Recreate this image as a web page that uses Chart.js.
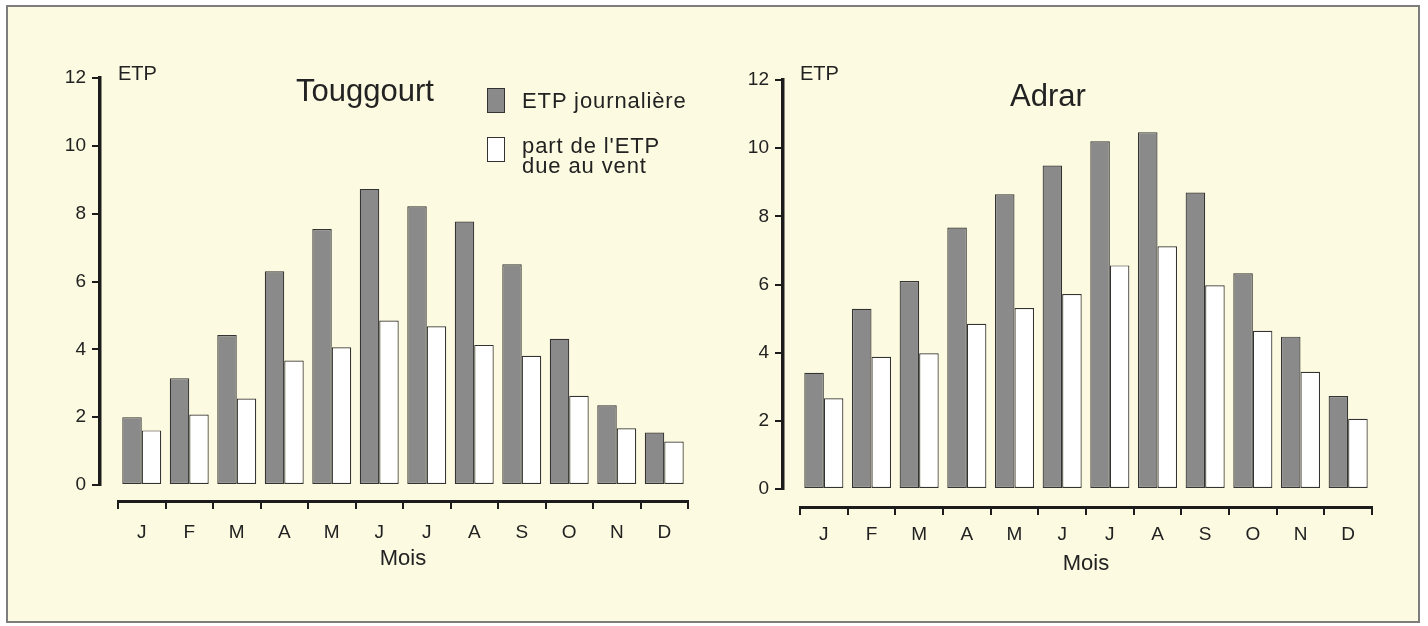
<!DOCTYPE html>
<html>
<head>
<meta charset="utf-8">
<script src="https://cdn.jsdelivr.net/npm/chart.js@4.4.1/dist/chart.umd.min.js"></script>
<style>
  body { margin: 0; width: 1428px; height: 626px; overflow: hidden; background: #fff;
         font-family: "Liberation Sans", Arial, sans-serif; color: #222; }
  #frame { position: absolute; left: 6px; top: 5px; width: 1414px; height: 618px; box-sizing: border-box;
           background: #fcfae0; border: 2px solid #7d7d7d; }
  .wrap { position: absolute; }
  .txt { position: absolute; white-space: nowrap; line-height: 1; }
  .sw { position: absolute; width: 18px; height: 25px; box-sizing: border-box; border: 1.5px solid #333; }
</style>
</head>
<body>
<div id="frame"></div>

<div class="wrap" style="left:20px; top:20px;"><canvas id="touggourt" width="680" height="580"></canvas></div>
<div class="wrap" style="left:700px; top:20px;"><canvas id="adrar" width="700" height="580"></canvas></div>

<div class="txt" style="left:296px; top:75px; font-size:31px;">Touggourt</div>
<div class="txt" style="left:1010px; top:80px; font-size:31px;">Adrar</div>
<div class="txt" style="left:118px; top:63px; font-size:20px;">ETP</div>
<div class="txt" style="left:800px; top:63px; font-size:20px;">ETP</div>

<div class="sw" style="left:487px; top:88px; background:#8a8a8a;"></div>
<div class="txt" style="left:522px; top:90px; font-size:22px; letter-spacing:0.9px;">ETP journalière</div>
<div class="sw" style="left:487px; top:137px; background:#fff;"></div>
<div class="txt" style="left:522px; top:136px; font-size:22px; letter-spacing:0.9px; line-height:20px;">part de l'ETP<br>due au vent</div>

<script>
const months = ['J', 'F', 'M', 'A', 'M', 'J', 'J', 'A', 'S', 'O', 'N', 'D'];
const yTicks = [0, 2, 4, 6, 8, 10, 12];

// Touggourt
const touggourtEtp  = [2.0, 3.15, 4.42, 6.3, 7.55, 8.73, 8.22, 7.77, 6.51, 4.31, 2.35, 1.55];
const touggourtVent = [1.61, 2.08, 2.55, 3.67, 4.06, 4.85, 4.68, 4.13, 3.81, 2.63, 1.67, 1.28];

// Adrar
const adrarEtp  = [3.41, 5.29, 6.1, 7.67, 8.65, 9.49, 10.2, 10.47, 8.7, 6.33, 4.47, 2.73];
const adrarVent = [2.66, 3.88, 3.98, 4.85, 5.31, 5.72, 6.56, 7.12, 5.98, 4.64, 3.44, 2.06];

const FONT = '"Liberation Sans", Arial, sans-serif';
const INK = '#1c1c1c';

function makeChart(id, etp, vent, pad, gapX, gapY, labelPad, xHeight) {
  new Chart(document.getElementById(id), {
    type: 'bar',
    data: {
      labels: months,
      datasets: [
        { label: 'ETP journalière', data: etp, backgroundColor: '#8a8a8a', borderColor: '#333',
          borderWidth: 1.2, borderSkipped: false, xAxisID: 'x', yAxisID: 'y' },
        { label: "part de l'ETP due au vent", data: vent, backgroundColor: '#ffffff', borderColor: '#333',
          borderWidth: 1.2, borderSkipped: false, xAxisID: 'x', yAxisID: 'y' }
      ]
    },
    options: {
      responsive: false,
      animation: false,
      layout: { padding: pad },
      datasets: { bar: { categoryPercentage: 0.82, barPercentage: 1.0 } },
      plugins: { legend: { display: false }, tooltip: { enabled: false } },
      scales: {
        x: {
          type: 'category', position: 'bottom', weight: 1, offset: true,
          grid: { display: true, offset: true, drawOnChartArea: false, tickLength: 8, color: INK, lineWidth: 2 },
          border: { display: true, color: INK, width: 3 },
          ticks: { color: '#222', font: { family: FONT, size: 19 }, padding: labelPad, maxRotation: 0, autoSkip: false },
          title: { display: true, text: 'Mois', color: '#222', font: { family: FONT, size: 22 }, padding: 0 },
          afterFit: s => { s.height = xHeight; }
        },
        // empty band between the bars and the month axis
        xs: {
          type: 'linear', axis: 'x', position: 'bottom', weight: 0,
          grid: { display: false }, border: { display: false }, ticks: { display: false },
          afterFit: s => { s.height = gapY; }
        },
        y: {
          type: 'linear', position: 'left', weight: 1, min: 0, max: 12,
          afterBuildTicks: s => { s.ticks = yTicks.map(v => ({ value: v })); },
          grid: { display: true, drawOnChartArea: false, tickLength: 8, color: INK, lineWidth: 2 },
          border: { display: true, color: INK, width: 3.5 },
          ticks: { color: '#222', font: { family: FONT, size: 19 }, padding: 6 },
          afterFit: s => { s.width = 40; }
        },
        // empty band between the ETP axis and the first bar
        ys: {
          type: 'linear', axis: 'y', position: 'left', weight: 0,
          grid: { display: false }, border: { display: false }, ticks: { display: false },
          afterFit: s => { s.width = gapX; }
        }
      }
    }
  });
}

makeChart('touggourt', touggourtEtp, touggourtVent, { left: 40, right: 12, top: 58, bottom: 28 }, 18, 16, 12, 71);
makeChart('adrar', adrarEtp, adrarVent, { left: 43, right: 28, top: 60, bottom: 23 }, 17, 18, 8, 70);
</script>
</body>
</html>
